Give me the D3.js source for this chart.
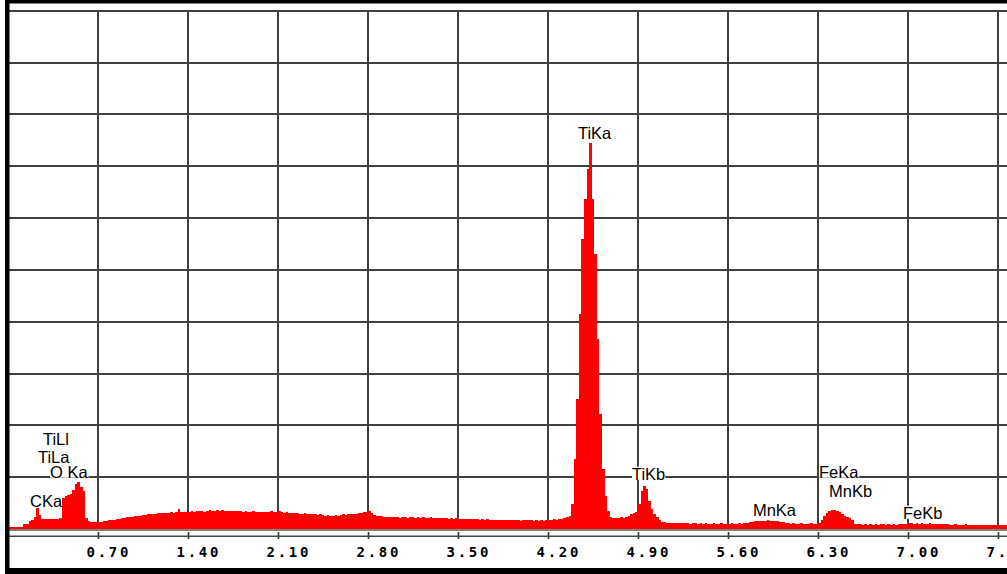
<!DOCTYPE html>
<html><head><meta charset="utf-8">
<script src="https://cdn.jsdelivr.net/npm/d3@7"></script>
<style>html,body{margin:0;padding:0;background:#fff;overflow:hidden;} svg{display:block;}</style>
</head><body>
<svg id="chart" width="1007" height="574"></svg>
<script>
// ---- data ----
const energyStart = 0;      // keV of first channel
const energyStep = 0.02;    // keV per channel
const counts = [
  3,3,4,3,4,4,10,10,15,17, 23,41,27,19,19,20,19,20,19,20, 21,60,64,66,68,75,87,91,81,73, 21,15,14,13,14,
  14,14,15,16,17,17,18,19,19,21, 22,23,24,24,25,26,26,27,27,28, 28,29,29,30,30,31,30,31,32,31, 32,38,33,32,33,
  33,34,33,35,34,35,33,35,36,34, 35,36,35,37,35,34,35,35,34,35, 34,33,34,33,33,34,33,33,32,33, 32,33,34,32,33,
  34,32,31,32,31,30,31,30,29,29, 30,29,28,29,28,27,28,27,26,27, 26,26,27,26,27,28,27,28,28,29, 29,30,31,32,33,
  34,30,27,26,25,25,24,24,23,24, 23,23,22,23,23,22,23,23,22,23, 22,23,22,22,23,22,21,22,21,22, 21,20,21,20,21,
  20,20,19,20,19,20,19,19,18,19, 18,19,18,18,17,18,17,18,17,18, 17,17,18,17,16,17,18,17,17,16, 17,16,17,16,17,
  18,17,19,18,20,19,21,23,25,48, 135,251,415,560,637,695,745,637,531,367, 222,116,64,35,23,21,22,21,23,22, 24,25,29,31,33,
  48,73,83,77,54,39,29,23,17,14, 13,12,12,11,12,11,11,12,11,11, 10,11,11,10,11,10,11,10,10,11, 10,10,11,10,10,
  10,11,10,10,11,10,11,12,13,14, 15,15,16,15,16,17,16,16,15,15, 14,13,12,11,10,11,10,10,11,10, 10,10,11,10,10,
  11,17,25,31,35,37,37,35,33,29, 25,23,21,17,10,9,9,8,9,8, 9,8,9,8,9,9,8,9,8,9, 8,9,9,10,10,
  11,11,10,11,10,11,10,10,11,10, 10,9,10,9,10,9,8,8,9,8, 8,8,9,8,8,8,7,8,8,7, 8,8,7,8,8,
  8,7,8,8
];
const tickValues = [0.70, 1.40, 2.10, 2.80, 3.50, 4.20, 4.90, 5.60, 6.30, 7.00, 7.70];
const tickLabels = ["0.70", "1.40", "2.10", "2.80", "3.50", "4.20", "4.90", "5.60", "6.30", "7.00", "7.70"];
const gridCounts = [0, 100, 200, 300, 400, 500, 600, 700, 800, 900, 1000];
const peakNames = ["TiLl", "TiLa", "O Ka", "CKa", "TiKa", "TiKb", "MnKa", "FeKa", "MnKb", "FeKb"];
const peakLabelEnergy = [0.272, 0.233, 0.327, 0.171, 4.433, 4.853, 5.794, 6.308, 6.386, 6.961];
const peakLabelCount = [162, 128, 99, 43, 753, 95, 26, 99, 62, 20];

// ---- chart ----
const W = 1007, H = 574;
const svg = d3.select("#chart");
const x = d3.scaleLinear().domain([0, 7.77]).range([8, 1007]);
const y = d3.scaleLinear().domain([0, 1000]).range([529, 10.7]);

svg.append("rect").attr("width", W).attr("height", H).attr("fill", "#fff");

// grid
const grid = svg.append("g").attr("stroke", "#404040").attr("stroke-width", 2).attr("shape-rendering", "crispEdges");
grid.selectAll("line.h").data(gridCounts.slice(1)).join("line")
  .attr("x1", 9).attr("x2", W)
  .attr("y1", d => Math.round(y(d))).attr("y2", d => Math.round(y(d)));
grid.selectAll("line.v").data(tickValues).join("line")
  .attr("x1", d => Math.round(x(d))).attr("x2", d => Math.round(x(d)))
  .attr("y1", Math.round(y(1000))).attr("y2", y(0));

// label backgrounds layer (interrupt grid lines), then spectrum, then label text
const bgLayer = svg.append("g");

// spectrum: one bar per channel
const bins = counts.map((c, i) => ({e0: energyStart + i * energyStep, e1: energyStart + (i + 1) * energyStep, c}));
svg.append("g").attr("fill", "#ff0000").attr("shape-rendering", "crispEdges")
  .selectAll("rect").data(bins).join("rect")
  .attr("x", d => Math.round(x(d.e0)))
  .attr("width", d => Math.round(x(d.e1)) - Math.round(x(d.e0)))
  .attr("y", d => Math.round(y(d.c)))
  .attr("height", d => Math.round(y(0)) - Math.round(y(d.c)));

// baseline
svg.append("line").attr("x1", 9).attr("x2", W).attr("y1", 530).attr("y2", 530)
  .attr("stroke", "#555").attr("stroke-width", 1.6);

// axis
const axisG = svg.append("g").attr("transform", "translate(0,532)")
  .call(d3.axisBottom(x).tickValues(tickValues).tickFormat((d, i) => tickLabels[i]).tickSizeInner(7).tickSizeOuter(0));
axisG.select(".domain").remove();
axisG.selectAll(".tick line").attr("stroke", "#333").attr("stroke-width", 1.6);
axisG.selectAll(".tick text")
  .attr("text-anchor", "start").attr("x", -12).attr("y", 25).attr("dy", 0)
  .attr("fill", "#000")
  .style("font-family", "'DejaVu Sans Mono', monospace")
  .style("font-weight", "bold").style("font-size", "14px").style("letter-spacing", "2.7px");
svg.append("line").attr("x1", 9).attr("x2", W).attr("y1", 536.2).attr("y2", 536.2)
  .attr("stroke", "#444").attr("stroke-width", 1.6);

// peak labels
const lab = svg.append("g");
peakNames.forEach((name, i) => {
  const t = lab.append("text")
    .attr("x", x(peakLabelEnergy[i])).attr("y", y(peakLabelCount[i]))
    .attr("fill", "#000")
    .style("font-family", "'Liberation Sans', Arial, sans-serif")
    .style("font-size", "16.5px")
    .text(name);
  const b = t.node().getBBox();
  bgLayer.append("rect").attr("x", b.x).attr("y", b.y + 2).attr("width", b.width).attr("height", b.height - 5)
    .attr("fill", "#fff");
});

// frame
svg.append("rect").attr("x", 5).attr("y", 0).attr("width", W - 5).attr("height", 3.5).attr("fill", "#000");
svg.append("rect").attr("x", 5).attr("y", 0).attr("width", 4.5).attr("height", H).attr("fill", "#000");
svg.append("rect").attr("x", 5).attr("y", 568).attr("width", W - 5).attr("height", 6).attr("fill", "#000");
</script>
</body></html>
